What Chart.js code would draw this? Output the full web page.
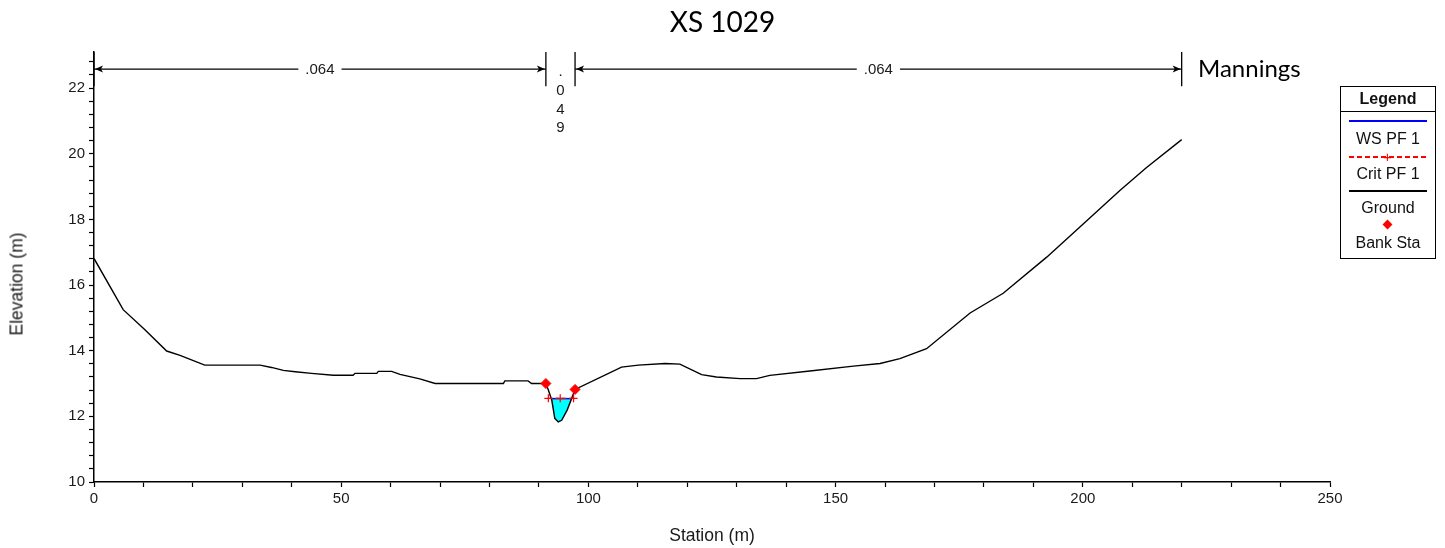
<!DOCTYPE html>
<html><head><meta charset="utf-8">
<script src="https://cdn.jsdelivr.net/npm/chart.js@4/dist/chart.umd.min.js"></script>
<style>
html,body{margin:0;padding:0;background:#fff;}
#wrap{position:relative;width:1445px;height:548px;overflow:hidden;background:#fff;}
canvas{position:absolute;left:0;top:0;}
.t{position:absolute;white-space:nowrap;color:#000;}
#title{left:0;width:1445px;text-align:center;top:4px;font-size:28px;font-family:Lato,"Open Sans",sans-serif;}
#mann{left:1198px;top:53px;font-size:24px;font-family:Lato,"Open Sans",sans-serif;}
#ytitle{left:17px;top:284px;transform:translate(-50%,-50%) rotate(-90deg);font-size:17.5px;font-family:"Liberation Sans",Arial,sans-serif;color:#1a1a1a;}
#legend{position:absolute;left:1340px;top:86px;width:96px;height:173px;border:1.5px solid #000;box-sizing:border-box;font-family:"Liberation Sans",Arial,sans-serif;font-size:16px;color:#111;}
#legend .hd{position:absolute;left:0;top:0;width:100%;height:25px;line-height:24px;text-align:center;font-weight:bold;border-bottom:1.5px solid #000;box-sizing:border-box;}
#legend .lb{position:absolute;left:0;width:100%;text-align:center;line-height:18px;}
#legend .ln{position:absolute;left:8px;width:78px;height:2px;}
#legend .plus{position:absolute;color:#f00;font-size:15px;line-height:10px;font-family:"Liberation Sans",Arial,sans-serif;}
#legend .dia{position:absolute;width:7px;height:7px;background:#f00;transform:rotate(45deg);}
</style></head>
<body>
<div id="wrap">
<canvas id="c" width="1445" height="548"></canvas>
<div class="t" id="title">XS 1029</div>
<div class="t" id="mann">Mannings</div>
<div class="t" id="ytitle">Elevation (m)</div>
<div id="legend">
  <div class="hd">Legend</div>
  <div class="ln" style="top:33px;background:#0000ff;"></div>
  <div class="lb" style="top:43px;">WS PF 1</div>
  <div class="ln" style="top:69px;background:repeating-linear-gradient(90deg,#ff0000 0 5px,transparent 5px 8px);"></div>
  <div class="plus" style="left:42px;top:65px;">+</div>
  <div class="lb" style="top:78px;">Crit PF 1</div>
  <div class="ln" style="top:103px;background:#000;"></div>
  <div class="lb" style="top:112px;">Ground</div>
  <div class="dia" style="left:43px;top:134px;"></div>
  <div class="lb" style="top:147px;">Bank Sta</div>
</div>
</div>
<script>
// ---- data ----
const groundStation = [0, 5.9, 10.3, 14.7, 17.4, 22.4, 33.6, 35.9, 38.3, 40.7, 44.0, 48.4, 52.4, 52.8, 57.2, 57.5, 60.2, 61.9, 65.9, 69.0, 82.8, 83.1, 87.8, 88.5, 91.4, 91.9, 92.6, 93.2, 93.9, 94.6, 95.7, 96.6, 97.3, 106.7, 110.1, 115.5, 118.5, 122.9, 125.9, 130.7, 134.0, 136.7, 144.8, 153.6, 159.0, 163.0, 168.4, 177.2, 183.9, 192.7, 200.8, 207.5, 212.9, 220.0];
const groundElev = [16.81, 15.25, 14.64, 13.99, 13.86, 13.56, 13.56, 13.49, 13.40, 13.36, 13.31, 13.25, 13.25, 13.31, 13.31, 13.37, 13.37, 13.28, 13.14, 13.00, 13.00, 13.08, 13.08, 13.00, 13.00, 12.80, 12.49, 11.94, 11.83, 11.88, 12.19, 12.54, 12.82, 13.50, 13.56, 13.61, 13.59, 13.27, 13.20, 13.15, 13.15, 13.25, 13.38, 13.53, 13.61, 13.76, 14.06, 15.15, 15.75, 16.85, 17.96, 18.88, 19.58, 20.43];
const wsStation = [92.5, 96.6];
const wsElev = [12.54, 12.54];
const critStation = [91.9, 94.3, 97.0];
const critElev = [12.55, 12.55, 12.55];
const bankStation = [91.4, 97.3];
const bankElev = [13.00, 12.82];
const manningBreaks = [0, 91.4, 97.3, 220];
const manningValues = ['.064', '.049', '.064'];
const manningArrowElev = 22.58;
const manningBarLow = 22.06;
const manningBarHigh = 23.1;
const xTicksMajor = [0, 50, 100, 150, 200, 250];
const yTicksMajor = [10, 12, 14, 16, 18, 20, 22];

const pts = (xs, ys) => xs.map((v, i) => ({x: v, y: ys[i]}));

// manning arrows and bars
const arrowDatasets = [];
[[0, 1], [2, 3]].forEach(([a, b]) => {
  arrowDatasets.push({
    label: 'n-arrow',
    data: [{x: manningBreaks[a], y: manningArrowElev}, {x: manningBreaks[b], y: manningArrowElev}],
    showLine: true, borderColor: '#000', borderWidth: 1.3,
    pointRadius: 0, clip: false, order: 5
  });
});
const barData = [];
manningBreaks.forEach(b => {
  barData.push({x: b, y: manningBarLow}, {x: b, y: manningBarHigh}, {x: b, y: null});
});

const manningPlugin = {
  id: 'manningLabels',
  afterDatasetsDraw(chart) {
    const {ctx, scales: {x, y}} = chart;
    const yp = y.getPixelForValue(manningArrowElev);
    ctx.save();
    ctx.fillStyle = '#000';
    const heads = [[0, 1], [2, 3]];
    heads.forEach(([a, b]) => {
      const xa = x.getPixelForValue(manningBreaks[a]) + 1;
      const xb = x.getPixelForValue(manningBreaks[b]) - 1;
      ctx.beginPath(); ctx.moveTo(xa, yp); ctx.lineTo(xa + 8, yp - 3.5); ctx.lineTo(xa + 6, yp); ctx.lineTo(xa + 8, yp + 3.5); ctx.closePath(); ctx.fill();
      ctx.beginPath(); ctx.moveTo(xb, yp); ctx.lineTo(xb - 8, yp - 3.5); ctx.lineTo(xb - 6, yp); ctx.lineTo(xb - 8, yp + 3.5); ctx.closePath(); ctx.fill();
    });
    ctx.font = '15px "Liberation Sans", Arial, sans-serif';
    ctx.textAlign = 'center';
    ctx.textBaseline = 'middle';
    for (let i = 0; i < manningValues.length; i++) {
      const x0 = x.getPixelForValue(manningBreaks[i]);
      const x1 = x.getPixelForValue(manningBreaks[i + 1]);
      const xm = (x0 + x1) / 2;
      const txt = manningValues[i];
      const w = ctx.measureText(txt).width;
      if (x1 - x0 > w + 24) {
        ctx.fillStyle = '#fff';
        ctx.fillRect(xm - w / 2 - 7, yp - 8, w + 14, 16);
        ctx.fillStyle = '#1a1a1a';
        ctx.fillText(txt, xm, yp + 1);
      } else {
        ctx.fillStyle = '#1a1a1a';
        for (let k = 0; k < txt.length; k++) ctx.fillText(txt[k], xm, yp + 3 + k * 18.7);
      }
    }
    ctx.restore();
  }
};

const tickFont = {family: '"Liberation Sans", Arial, sans-serif', size: 15};
const titleFont = {family: '"Liberation Sans", Arial, sans-serif', size: 17.5};

new Chart(document.getElementById('c'), {
  type: 'scatter',
  data: {
    datasets: [
      { // 0 ground
        label: 'Ground', data: pts(groundStation, groundElev), showLine: true,
        borderColor: '#000', borderWidth: 1.4, pointRadius: 0, fill: false, order: 4
      },
      { // 1 WS
        label: 'WS PF 1', data: pts(wsStation, wsElev), showLine: true,
        borderColor: '#0000ff', borderWidth: 1.5, pointRadius: 0,
        backgroundColor: '#00ffff', fill: 0, order: 3
      },
      { // 2 crit
        label: 'Crit PF 1', data: pts(critStation, critElev), showLine: true,
        borderColor: '#ff0000', borderWidth: 1.2, borderDash: [4, 3],
        pointStyle: 'cross', pointRadius: 4, pointBorderColor: '#ff0000', pointBorderWidth: 1.2, order: 2
      },
      { // 3 bank
        label: 'Bank Sta', data: pts(bankStation, bankElev), showLine: false,
        pointStyle: 'rectRot', pointRadius: 5, pointBackgroundColor: '#ff0000', pointBorderColor: '#ff0000', order: 1
      },
      ...arrowDatasets,
      {
        label: 'n-bars', data: barData, showLine: true, spanGaps: false,
        borderColor: '#000', borderWidth: 1.3, pointRadius: 0, clip: false, order: 5
      }
    ]
  },
  options: {
    responsive: false, animation: false, devicePixelRatio: 1,
    layout: {padding: {left: 0, top: 52, right: 115, bottom: 0}},
    plugins: {legend: {display: false}, tooltip: {enabled: false}, title: {display: false},
      filler: {drawTime: 'beforeDatasetsDraw'}},
    scales: {
      x: {
        type: 'linear', min: 0, max: 250,
        afterFit: (s) => { s.height = 66; },
        border: {color: '#000', width: 1.5},
        grid: {drawOnChartArea: false, drawTicks: true, tickLength: 5, color: '#000', tickColor: '#000', tickWidth: 1.2},
        ticks: {stepSize: 10, autoSkip: false, maxRotation: 0, padding: 3, color: '#1a1a1a', font: tickFont,
          callback: (v) => xTicksMajor.includes(Math.round(v * 100) / 100) ? String(v) : ''},
        title: {display: true, text: 'Station (m)', color: '#1a1a1a', font: titleFont, padding: {top: 0, bottom: 1.5}}
      },
      y: {
        type: 'linear', min: 10, max: 23.1,
        afterFit: (s) => { s.width = 94; },
        border: {color: '#000', width: 1.5},
        grid: {drawOnChartArea: false, drawTicks: true, tickLength: 5, color: '#000', tickColor: '#000', tickWidth: 1.2},
        ticks: {stepSize: 0.4, includeBounds: false, autoSkip: false, padding: 4, color: '#1a1a1a', font: tickFont,
          callback: (v) => { const r = Math.round(v * 100) / 100; return yTicksMajor.includes(r) ? String(r) : ''; }},
        title: {display: false}
      }
    }
  },
  plugins: [manningPlugin]
});
</script>
</body></html>
